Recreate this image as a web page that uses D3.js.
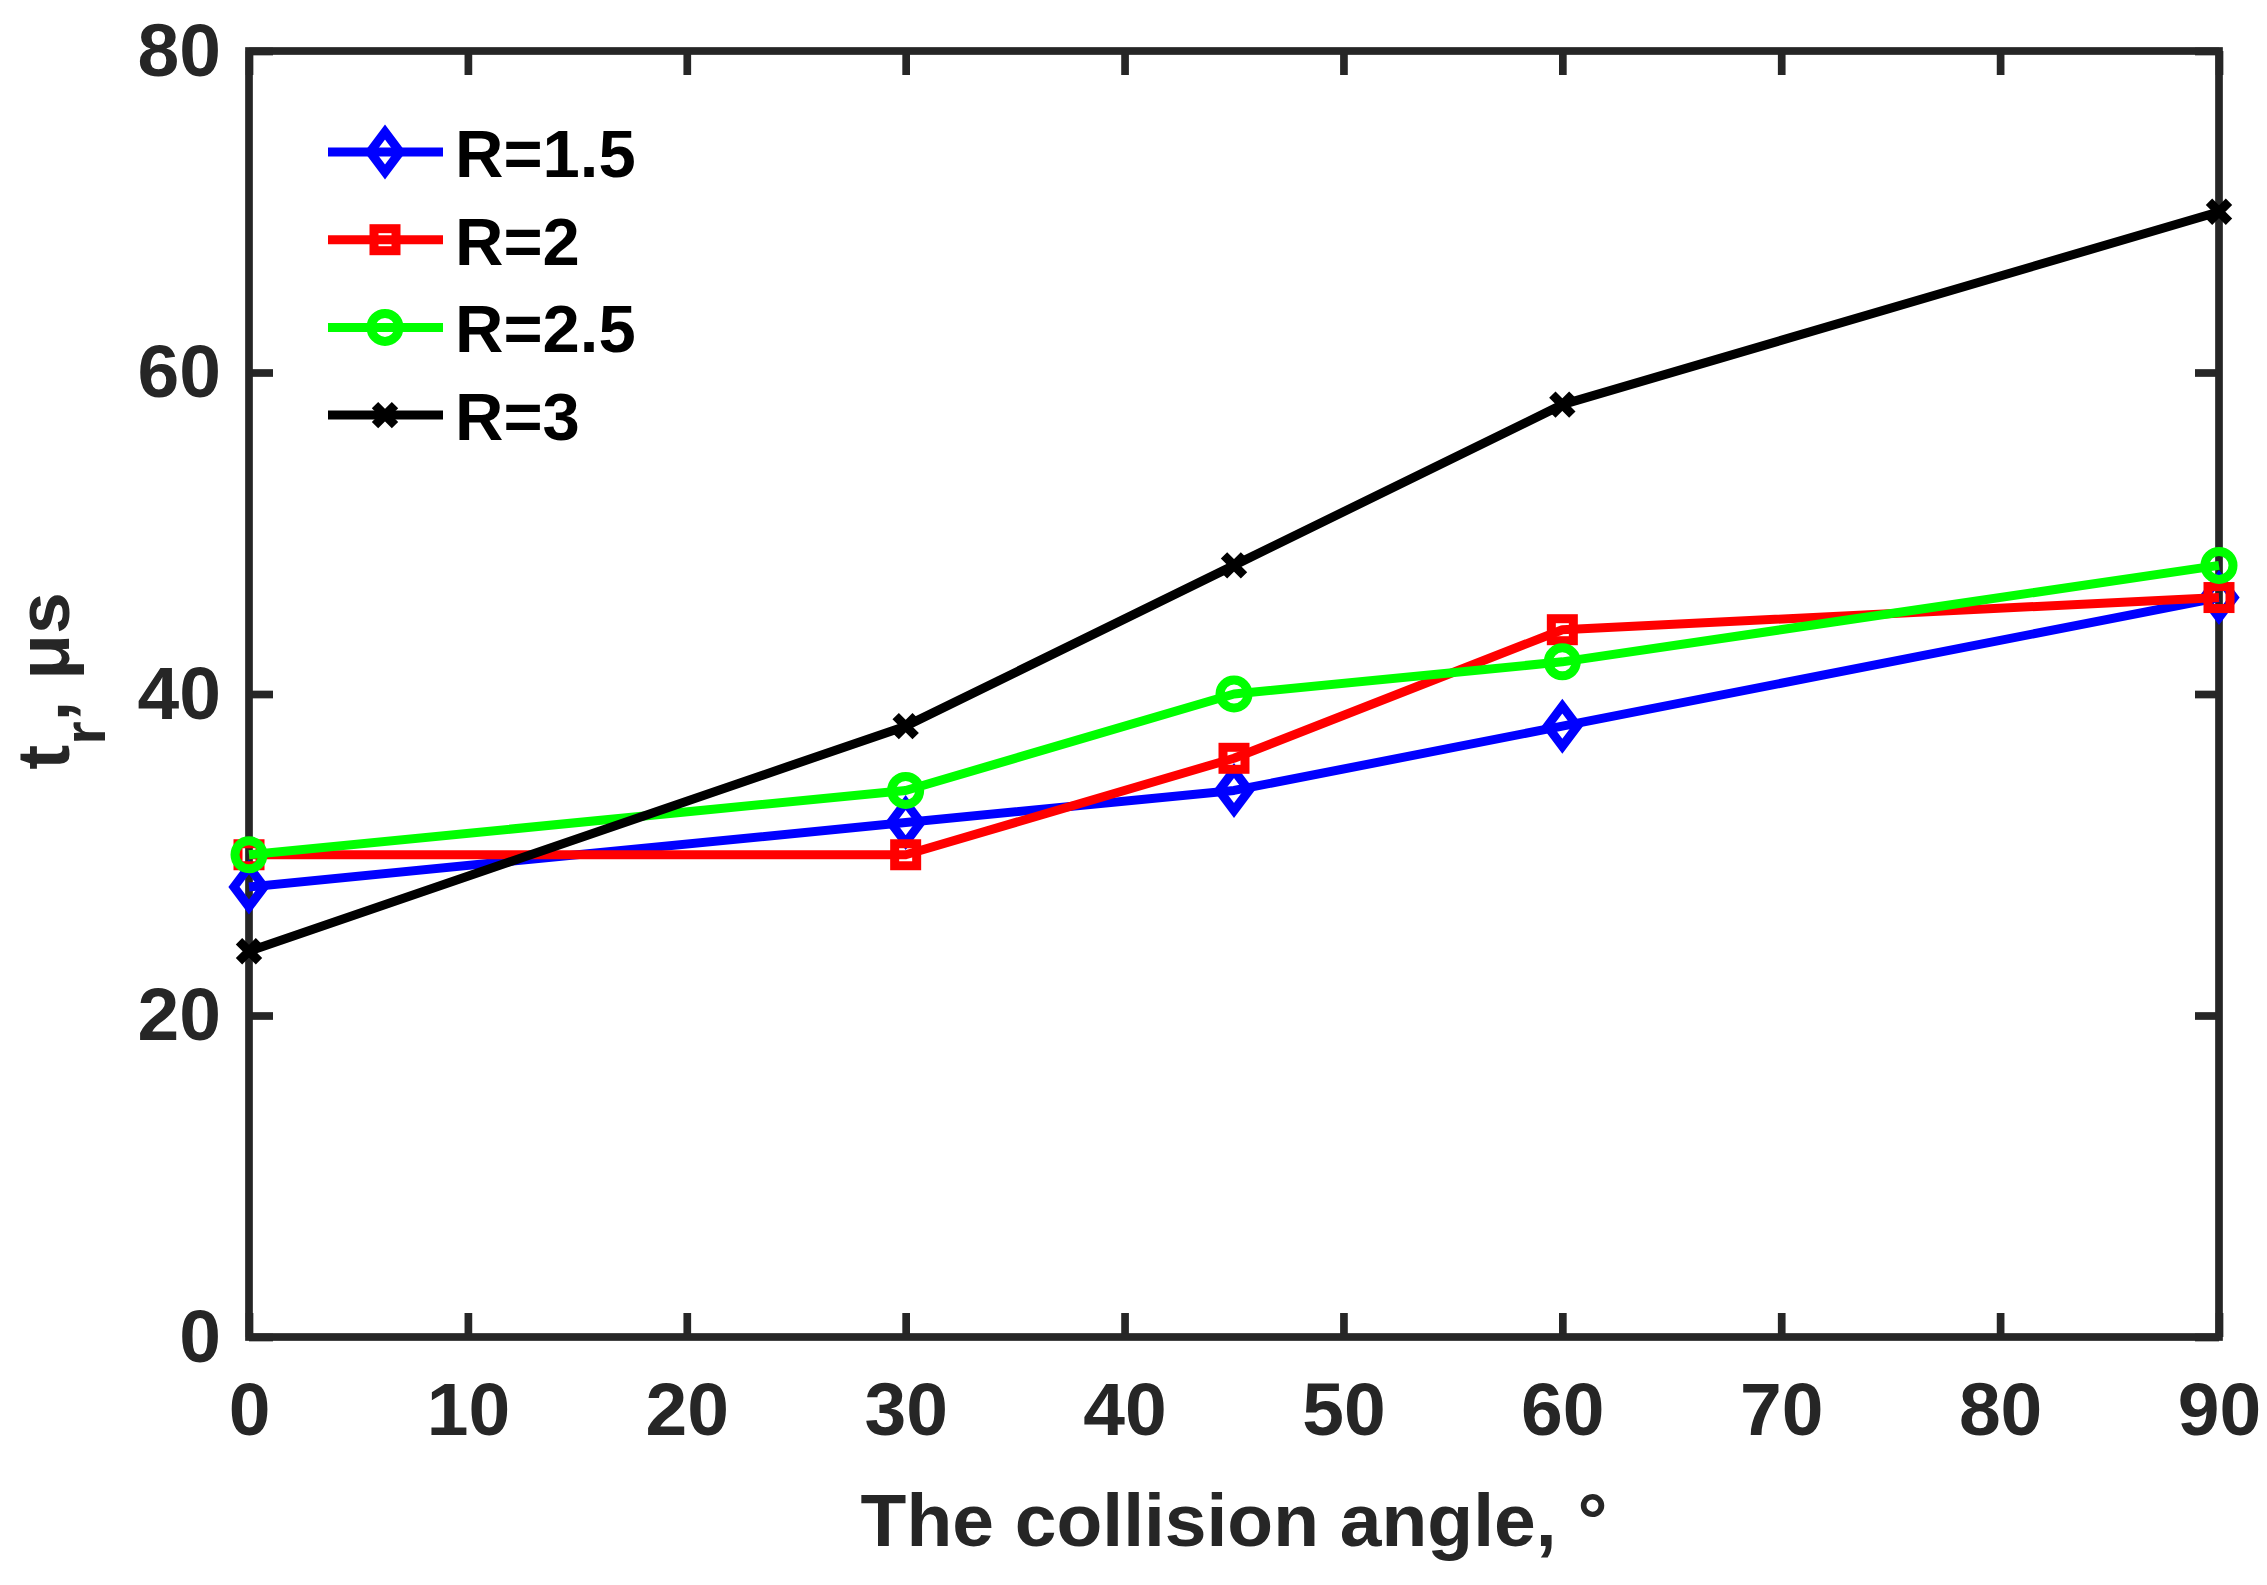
<!DOCTYPE html>
<html>
<head>
<meta charset="utf-8">
<script src="https://d3js.org/d3.v7.min.js"></script>
<style>
  body { margin: 0; background: #fff; }
  svg { display: block; font-family: "Liberation Sans", Arial, sans-serif; font-weight: bold; }
</style>
</head>
<body>
<div class="chart"></div>
<script>
// collision angle, degrees
const angles = [0, 30, 45, 60, 90];

// t_r in microseconds, one array per R
const r15 = [28, 32, 34, 38, 46];
const r2 = [30, 30, 36, 44, 46];
const r25 = [30, 34, 40, 42, 48];
const r3 = [24, 38, 48, 58, 70];

const seriesNames = ['R=1.5', 'R=2', 'R=2.5', 'R=3'];
const seriesValues = [r15, r2, r25, r3];
const seriesColors = ['#0000ff', '#ff0000', '#00ff00', '#000000'];
const seriesMarkers = ['diamond', 'square', 'circle', 'cross'];

const xTickValues = [0, 10, 20, 30, 40, 50, 60, 70, 80, 90];
const yTickValues = [0, 20, 40, 60, 80];

const W = 2267, H = 1585;
const margin = { top: 51, left: 249, right: 48, bottom: 248 };
const axisColor = '#262626';
const axisW = 7.7;
const lw = 9;

const svg = d3.select('.chart').append('svg')
    .attr('width', W)
    .attr('height', H);

const iW = W - margin.left - margin.right;
const iH = H - margin.top - margin.bottom;

const xScale = d3.scaleLinear().domain([0, 90]).range([0, iW]);
const yScale = d3.scaleLinear().domain([0, 80]).range([iH, 0]);

const graph = svg.append('g')
    .attr('transform', `translate(${margin.left},${margin.top})`);

// axes: labelled bottom/left, bare ticks on top/right
const tickLen = 24;
const xAxis = d3.axisBottom(xScale).tickValues(xTickValues).tickSize(-tickLen).tickPadding(45);
const yAxis = d3.axisLeft(yScale).tickValues(yTickValues).tickSize(-tickLen).tickPadding(28);
const xTop = d3.axisTop(xScale).tickValues(xTickValues).tickSize(-tickLen).tickFormat('');
const yRight = d3.axisRight(yScale).tickValues(yTickValues).tickSize(-tickLen).tickFormat('');

const axes = graph.append('g').attr('class', 'axes');
axes.append('g').attr('transform', `translate(0,${iH})`).call(xAxis);
axes.append('g').call(yAxis);
axes.append('g').call(xTop);
axes.append('g').attr('transform', `translate(${iW},0)`).call(yRight);

axes.selectAll('.domain').remove();
axes.selectAll('.tick line')
    .attr('stroke', axisColor)
    .attr('stroke-width', axisW);
axes.selectAll('.tick text')
    .attr('fill', axisColor)
    .attr('font-size', 75)
    .attr('font-family', '"Liberation Sans", Arial, sans-serif')
    .attr('font-weight', 'bold');

graph.append('rect')
    .attr('x', 0).attr('y', 0)
    .attr('width', iW).attr('height', iH)
    .attr('fill', 'none')
    .attr('stroke', axisColor)
    .attr('stroke-width', axisW)
    .attr('stroke-linejoin', 'miter');

// marker shapes, unfilled
function drawMarker(g, type, color)
{
    if (type === 'diamond') {
        g.append('path').attr('d', 'M0,-20L15,0L0,20L-15,0Z');
    } else if (type === 'square') {
        g.append('rect').attr('x', -11).attr('y', -11).attr('width', 22).attr('height', 22);
    } else if (type === 'circle') {
        g.append('circle').attr('r', 14);
    } else {
        g.append('path').attr('d', 'M-10,-10L10,10M-10,10L10,-10');
    }
    g.selectAll('*')
        .attr('fill', 'none')
        .attr('stroke', color)
        .attr('stroke-width', lw);
}

const line = d3.line()
    .x((d, i) => xScale(angles[i]))
    .y(d => yScale(d));

seriesValues.forEach((vals, k) => {
    const sg = graph.append('g').attr('class', 'series');
    sg.append('path')
        .attr('d', line(vals))
        .attr('fill', 'none')
        .attr('stroke', seriesColors[k])
        .attr('stroke-width', lw)
        .attr('stroke-linejoin', 'round');
    vals.forEach((v, i) => {
        const mg = sg.append('g')
            .attr('transform', `translate(${xScale(angles[i])},${yScale(v)})`);
        drawMarker(mg, seriesMarkers[k], seriesColors[k]);
    });
});

// legend, no box
const legend = svg.append('g').attr('class', 'legend');
seriesNames.forEach((name, k) => {
    const rowY = 152 + k * 87.7;
    const row = legend.append('g').attr('transform', `translate(0,${rowY})`);
    row.append('line')
        .attr('x1', 328).attr('x2', 443)
        .attr('y1', 0).attr('y2', 0)
        .attr('stroke', seriesColors[k])
        .attr('stroke-width', lw);
    drawMarker(row.append('g').attr('transform', 'translate(385,0)'), seriesMarkers[k], seriesColors[k]);
    row.append('text')
        .attr('x', 455)
        .attr('y', 25)
        .attr('font-size', 67)
        .attr('fill', '#000')
        .text(name);
});

// axis labels
svg.append('text')
    .attr('x', margin.left + iW / 2)
    .attr('y', 1546)
    .attr('text-anchor', 'middle')
    .attr('font-size', 75)
    .attr('fill', axisColor)
    .text('The collision angle, °');

const yLabel = svg.append('text')
    .attr('transform', 'translate(69,681) rotate(-90)')
    .attr('text-anchor', 'middle')
    .attr('font-size', 75)
    .attr('fill', axisColor);
yLabel.append('tspan').text('t');
yLabel.append('tspan').attr('font-size', 60).attr('dy', 36).text('r');
yLabel.append('tspan').attr('dy', -36).text(', μs');
</script>
</body>
</html>
